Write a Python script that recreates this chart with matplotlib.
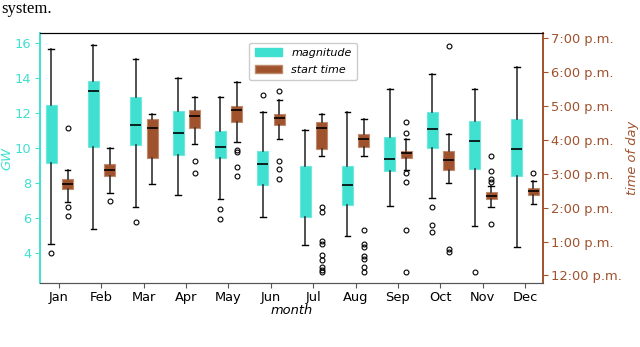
import numpy as np
import matplotlib
matplotlib.use("Agg")
import matplotlib.pyplot as plt
from matplotlib.patches import Patch

months = ["Jan", "Feb", "Mar", "Apr", "May", "Jun", "Jul", "Aug", "Sep", "Oct", "Nov", "Dec"]

# magnitude (GW): whislo, q1, median, q3, whishi
mag_whislo = [4.51, 5.38, 6.66, 7.34, 7.07, 6.07, 4.45, 4.96, 6.69, 7.13, 5.53, 4.34]
mag_q1     = [9.16, 10.04, 10.19, 9.62, 9.41, 7.89, 6.07, 6.75, 8.67, 10.00, 8.78, 8.38]
mag_med    = [np.nan, 13.25, 11.29, 10.83, 10.04, 9.07, np.nan, 7.91, 9.37, 11.10, 10.42, 9.94]
mag_q3     = [12.45, 13.85, 12.89, 12.11, 10.95, 9.83, 8.97, 8.97, 10.62, 12.03, 11.52, 11.67]
mag_whishi = [15.62, 15.87, 15.07, 14.02, 12.92, 12.03, 11.04, 12.03, 13.34, 14.21, 13.34, 14.63]
mag_fliers = [[4.03], [], [5.80], [], [6.52, 5.93], [13.0], [], [], [], [6.62, 5.63, 5.21], [2.91], []]

# start time (hour of day)
st_whislo = [14.18, 14.43, 14.70, 15.87, 15.95, 16.04, 15.54, 15.54, 15.11, 14.72, 14.03, 14.11]
st_q1     = [14.54, 14.94, 15.48, 16.34, 16.54, 16.43, 15.73, 15.79, 15.46, 15.10, 14.25, 14.37]
st_med    = [14.70, 15.10, 16.35, 16.71, 16.87, 16.66, 16.35, 16.04, 15.62, 15.41, 14.35, 14.49]
st_q3     = [14.86, 15.28, 16.63, 16.88, 17.01, 16.78, 16.52, 16.19, 15.68, 15.67, 14.45, 14.59]
st_whishi = [15.10, 15.76, 16.78, 17.28, 17.71, 17.19, 16.77, 16.63, 16.04, 16.19, 14.65, 14.80]
st_fliers = [[16.36, 14.03, 13.75], [14.19], [], [15.37, 15.01],
             [15.70, 15.63, 15.21, 14.94], [17.46, 15.38, 15.13, 14.86],
             [14.03, 13.86, 13.01, 12.92, 12.60, 12.45, 12.25, 12.16, 12.10],
             [13.35, 12.92, 12.83, 12.57, 12.49, 12.25, 12.09],
             [16.53, 16.21, 15.01, 14.77, 13.35, 12.09],
             [18.78, 12.77, 12.68],
             [15.53, 15.09, 14.84, 14.75, 13.52],
             [15.01]]

hour_ticks = [12, 13, 14, 15, 16, 17, 18, 19]
hour_labels = ["12:00 p.m.", "1:00 p.m.", "2:00 p.m.", "3:00 p.m.", "4:00 p.m.",
               "5:00 p.m.", "6:00 p.m.", "7:00 p.m."]
gw_ticks = [4, 6, 8, 10, 12, 14, 16]

TURQ = "#40E0D0"
SIENNA = "#A0522D"

def stats(lo, q1, med, q3, hi, fl):
    return [dict(whislo=a, q1=b, med=c, q3=d, whishi=e, fliers=f)
            for a, b, c, d, e, f in zip(lo, q1, med, q3, hi, fl)]

fig = plt.figure(figsize=(6.4, 3.47), dpi=100)
ax = fig.add_axes([0.0625, 0.185, 0.7855, 0.719])
ax2 = ax.twinx()

pos = np.arange(1, 13)
common = dict(patch_artist=True, widths=0.26, showcaps=True,
              medianprops=dict(color="black", lw=1.2),
              whiskerprops=dict(color="#333333", lw=1.2),
              capprops=dict(color="black", lw=1.0),
              flierprops=dict(marker="o", markersize=3.5, markerfacecolor="none",
                              markeredgecolor="black", markeredgewidth=0.8))

ax.bxp(stats(mag_whislo, mag_q1, mag_med, mag_q3, mag_whishi, mag_fliers),
       positions=pos - 0.19, boxprops=dict(facecolor=TURQ, edgecolor="#6ee8dc", lw=0.8),
       **common)
ax2.bxp(stats(st_whislo, st_q1, st_med, st_q3, st_whishi, st_fliers),
        positions=pos + 0.2, boxprops=dict(facecolor=SIENNA, edgecolor="#c08a6c", lw=0.8),
        **common)

ax.set_xlim(0.55, 12.42)
ax.set_xticks(pos)
ax.set_xticklabels(months, fontsize=9.4)
ax.set_ylim(2.32, 16.54)
ax.set_yticks(gw_ticks)
ax.tick_params(axis="y", colors=TURQ, labelsize=9.4, pad=2.5)
ax.tick_params(axis="x", colors="#555555", labelcolor="black", pad=2.5)
ax.set_ylabel("GW", color=TURQ, style="italic", fontsize=9.4, labelpad=1)
ax.set_xlabel("month", style="italic", fontsize=9.4, labelpad=0)

ax2.set_ylim(11.78, 19.15)
ax2.set_yticks(hour_ticks)
ax2.set_yticklabels(hour_labels)
ax2.tick_params(axis="y", colors=SIENNA, labelsize=9.4, pad=2.5)
ax2.set_ylabel("time of day", color=SIENNA, style="italic", fontsize=9.4, labelpad=3)
ax2.set_xlim(0.55, 12.42)

for a in (ax, ax2):
    a.spines["left"].set_color(TURQ)
    a.spines["left"].set_linewidth(1.2)
    a.spines["right"].set_color(SIENNA)
    a.spines["right"].set_linewidth(1.2)
    a.spines["bottom"].set_color("#555555")

handles = [Patch(facecolor=TURQ, edgecolor=TURQ, label="magnitude"),
           Patch(facecolor=SIENNA, edgecolor="#c08a6c", label="start time")]
ax2.legend(handles=handles, loc="upper left", bbox_to_anchor=(0.405, 0.985),
           prop=dict(style="italic", size=8), handlelength=2.5, framealpha=1,
           borderpad=0.5, labelspacing=0.6)

fig.text(0.002, 0.998, "system.", family="Liberation Serif", fontsize=12,
         va="top", ha="left")

fig.savefig("out.png", dpi=100)
